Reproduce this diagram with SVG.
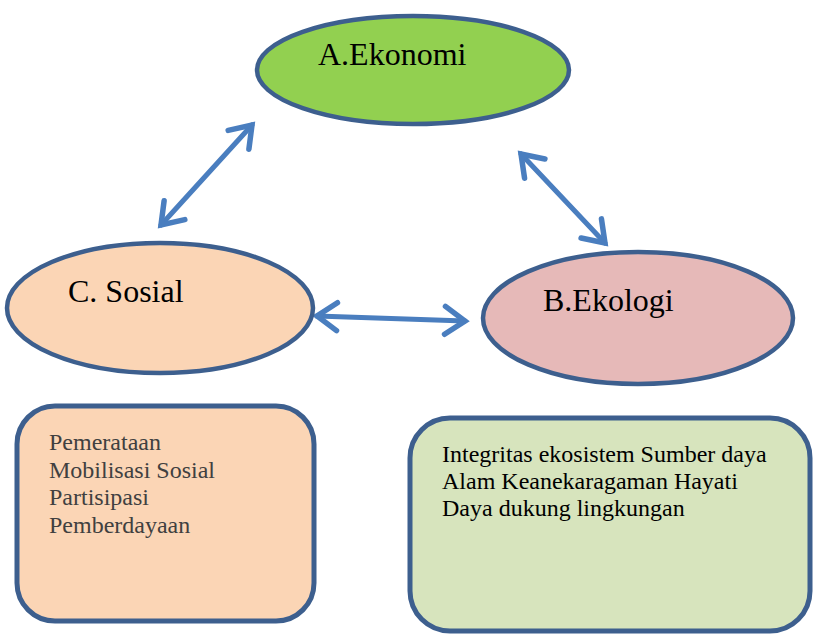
<svg xmlns="http://www.w3.org/2000/svg" width="813" height="634" viewBox="0 0 813 634">
<style>
.node{stroke:#3d5f8e;stroke-width:4.5}
.box{stroke:#3d5f8e;stroke-width:5}
.lbl{font-family:"Liberation Serif","Times New Roman",serif;font-size:32px;fill:#000}
.conn{stroke:#4a7ebf;stroke-width:5;fill:none;stroke-linecap:round}
.t1{font-family:"Liberation Serif","Times New Roman",serif;font-size:24px;fill:#404040}
.t2{font-family:"Liberation Serif","Times New Roman",serif;font-size:24px;fill:#000}
</style>
<defs>
<marker id="ah" markerUnits="userSpaceOnUse" viewBox="-30 -20 40 40" markerWidth="40" markerHeight="40" refX="0" refY="0" orient="auto-start-reverse">
<polyline points="-20,-14 0,0 -20,14" fill="none" stroke="#4a7ebf" stroke-width="5.5" stroke-linecap="round" stroke-linejoin="miter"/>
</marker>
</defs>
<rect width="813" height="634" fill="#fff"/>
<g id="connectors">
<line class="conn" x1="161" y1="225" x2="252" y2="125" marker-start="url(#ah)" marker-end="url(#ah)"/>
<line class="conn" x1="521" y1="154" x2="605" y2="243" marker-start="url(#ah)" marker-end="url(#ah)"/>
<line class="conn" x1="317" y1="316" x2="465" y2="321" marker-start="url(#ah)" marker-end="url(#ah)"/>
</g>
<g id="ekonomi">
<ellipse class="node" cx="413" cy="70" rx="156" ry="54" fill="#92d050"/>
<text class="lbl" x="318" y="65">A.Ekonomi</text>
</g>
<g id="sosial">
<ellipse class="node" cx="160" cy="308" rx="153" ry="65" fill="#fbd5b5"/>
<text class="lbl" x="68" y="302">C. Sosial</text>
</g>
<g id="ekologi">
<ellipse class="node" cx="638" cy="318" rx="155" ry="66" fill="#e6b9b8"/>
<text class="lbl" x="543" y="311">B.Ekologi</text>
</g>
<g id="sosial-box">
<rect class="box" x="17" y="406" width="297" height="215" rx="38" fill="#fbd5b5"/>
<text class="t1" x="49" y="450">Pemerataan</text>
<text class="t1" x="49" y="478">Mobilisasi Sosial</text>
<text class="t1" x="49" y="505">Partisipasi</text>
<text class="t1" x="49" y="533">Pemberdayaan</text>
</g>
<g id="ekologi-box">
<rect class="box" x="410" y="418" width="400" height="213" rx="40" fill="#d7e4bd"/>
<text class="t2" x="442" y="462">Integritas ekosistem Sumber daya</text>
<text class="t2" x="442" y="489">Alam Keanekaragaman Hayati</text>
<text class="t2" x="442" y="516">Daya dukung lingkungan</text>
</g>
</svg>
